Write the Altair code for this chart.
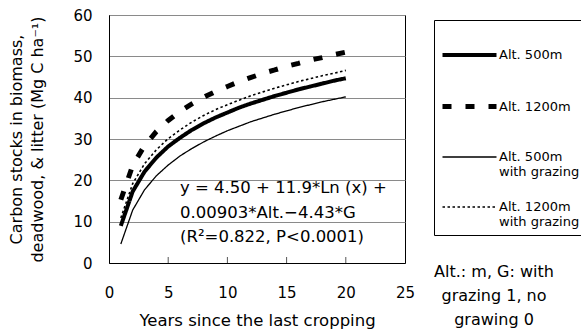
import altair as alt
import pandas as pd

years = list(range(1, 21))
alt500 = [9.0, 17.3, 22.1, 25.5, 28.2, 30.3, 32.2, 33.8, 35.2, 36.4, 37.6, 38.6, 39.5, 40.4, 41.2, 42.0, 42.7, 43.4, 44.1, 44.7]
alt1200 = [15.3, 23.6, 28.4, 31.8, 34.5, 36.7, 38.5, 40.1, 41.5, 42.7, 43.9, 44.9, 45.9, 46.7, 47.6, 48.3, 49.1, 49.7, 50.4, 51.0]
alt500g = [4.6, 12.8, 17.7, 21.1, 23.7, 25.9, 27.7, 29.3, 30.7, 32.0, 33.1, 34.2, 35.1, 36.0, 36.8, 37.6, 38.3, 39.0, 39.6, 40.2]
alt1200g = [10.9, 19.2, 24.0, 27.4, 30.1, 32.2, 34.1, 35.7, 37.1, 38.3, 39.4, 40.5, 41.4, 42.3, 43.1, 43.9, 44.6, 45.3, 45.9, 46.6]

series_names = ["Alt. 500m      | ", "Alt. 1200m      | ", "Alt. 500m      |with grazing", "Alt. 1200m      |with grazing"]
series_dash = [[1, 0], [9, 14], [1, 0], [2.5, 2.5]]
series_width = [4, 5, 1.3, 1.6]

x_ticks = [5, 10, 15, 20]
eq_lines = ["y = 4.50 + 11.9*Ln (x) +", "0.00903*Alt.\u22124.43*G", "(R\u00b2=0.822, P<0.0001)"]
note_lines = ["Alt.: m, G: with", "grazing 1, no", "grawing 0"]

rows = []
for name, vals in zip(series_names, [alt500, alt1200, alt500g, alt1200g]):
    for x, y in zip(years, vals):
        rows.append({"x": x, "y": y, "series": name})
df = pd.DataFrame(rows)

FONT = "DejaVu Sans"

xscale = alt.Scale(domain=[0, 25], nice=False)
yscale = alt.Scale(domain=[0, 60], nice=False)

legend = alt.Legend(title=None, orient="none", legendX=325, legendY=5,
                    symbolType="stroke", symbolSize=2916,
                    symbolStrokeColor="black",
                    labelExpr="split(datum.label, '|')",
                    labelFontSize=13, labelFont=FONT, labelColor="black",
                    labelBaseline="middle", labelLimit=400,
                    labelOffset=0, rowPadding=-1,
                    strokeColor="black", fillColor="white",
                    padding=6)

lines = alt.Chart(df).mark_line(color="black", strokeCap="butt").encode(
    x=alt.X("x:Q", scale=xscale,
            axis=alt.Axis(values=[0, 5, 10, 15, 20, 25], ticks=False, grid=False,
                          labelPadding=22.5, labelFontSize=15, title="Years since the last cropping",
                          titleFontSize=16.5, titleFontWeight="normal", titlePadding=11.5,
                          domainColor="black", labelColor="black", titleColor="black",
                          labelFlush=False)),
    y=alt.Y("y:Q", scale=yscale,
            axis=alt.Axis(values=[0, 10, 20, 30, 40, 50, 60], ticks=False, grid=True,
                          gridColor="#8a8a8a", labelPadding=17, labelFontSize=15,
                          title=["Carbon stocks in biomass,", "deadwood, & litter (Mg C ha\u207b\u00b9)"],
                          titleFontSize=16, titleFontWeight="normal", titleLineHeight=21,
                          titlePadding=27, domainColor="black", labelColor="black", titleColor="black",
                          labelFlush=False)),
    strokeDash=alt.StrokeDash("series:N", sort=series_names,
                              scale=alt.Scale(domain=series_names, range=series_dash),
                              legend=legend),
    strokeWidth=alt.StrokeWidth("series:N", sort=series_names,
                                scale=alt.Scale(type="ordinal", domain=series_names, range=series_width),
                                legend=legend),
    order="x:Q",
)

tick_df = pd.DataFrame({"x": x_ticks, "y0": [0] * len(x_ticks), "y1": [1.45] * len(x_ticks)})
ticks = alt.Chart(tick_df).mark_rule(color="#555", strokeWidth=1).encode(
    x="x:Q", y="y0:Q", y2="y1:Q"
)

eq = alt.Chart(pd.DataFrame({"x": [6.0], "y": [18.1]})).mark_text(
    text=eq_lines, align="left", baseline="middle", fontSize=16.5, font=FONT,
    lineHeight=24.5, color="black"
).encode(x="x:Q", y="y:Q")

note = alt.Chart(pd.DataFrame({"a": [0]})).mark_text(
    text=note_lines, align="center", baseline="middle", fontSize=16, font=FONT,
    lineHeight=24, color="black"
).encode(x=alt.value(385), y=alt.value(257))

chart = alt.layer(lines, ticks, eq, note).properties(
    width=296, height=248,
    autosize=alt.AutoSizeParams(type="none"),
    padding={"left": 109, "top": 15, "right": 176, "bottom": 71},
    background="white",
).configure_view(stroke="black", strokeWidth=1).configure_axis(
    labelFont=FONT, titleFont=FONT
).configure_legend(labelFont=FONT)

chart.save("out.html", embed_options={"renderer": "svg", "actions": False})
